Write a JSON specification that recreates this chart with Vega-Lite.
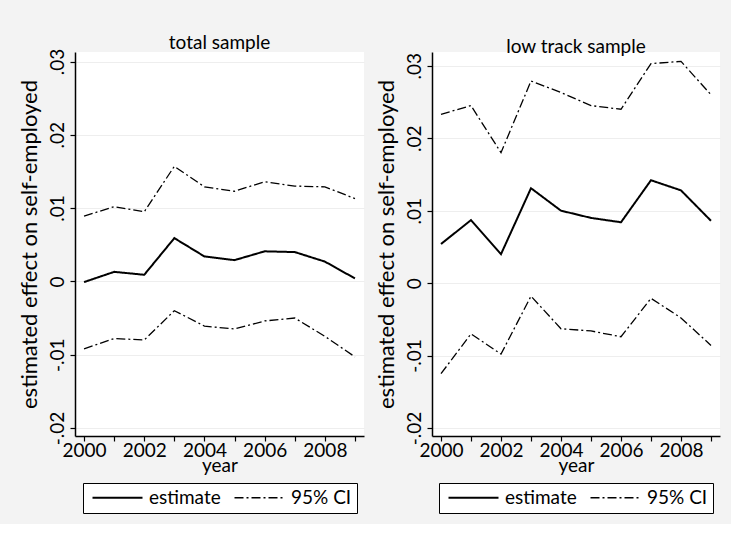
{
  "$schema": "https://vega.github.io/schema/vega-lite/v6.json",
  "background": "#f3f3f3",
  "padding": {"left": 18, "top": 34, "right": 13, "bottom": 10},
  "datasets": {
    "pts": [
      {"panel": "total", "year": 2000, "line": "estimate", "type": "estimate", "value": -0.0001},
      {"panel": "total", "year": 2001, "line": "estimate", "type": "estimate", "value": 0.0013},
      {"panel": "total", "year": 2002, "line": "estimate", "type": "estimate", "value": 0.0009},
      {"panel": "total", "year": 2003, "line": "estimate", "type": "estimate", "value": 0.0059},
      {"panel": "total", "year": 2004, "line": "estimate", "type": "estimate", "value": 0.0034},
      {"panel": "total", "year": 2005, "line": "estimate", "type": "estimate", "value": 0.0029},
      {"panel": "total", "year": 2006, "line": "estimate", "type": "estimate", "value": 0.0041},
      {"panel": "total", "year": 2007, "line": "estimate", "type": "estimate", "value": 0.0040},
      {"panel": "total", "year": 2008, "line": "estimate", "type": "estimate", "value": 0.0027},
      {"panel": "total", "year": 2009, "line": "estimate", "type": "estimate", "value": 0.0004},
      {"panel": "total", "year": 2000, "line": "upper", "type": "95% CI", "value": 0.0089},
      {"panel": "total", "year": 2001, "line": "upper", "type": "95% CI", "value": 0.0102},
      {"panel": "total", "year": 2002, "line": "upper", "type": "95% CI", "value": 0.0095},
      {"panel": "total", "year": 2003, "line": "upper", "type": "95% CI", "value": 0.0157},
      {"panel": "total", "year": 2004, "line": "upper", "type": "95% CI", "value": 0.0129},
      {"panel": "total", "year": 2005, "line": "upper", "type": "95% CI", "value": 0.0123},
      {"panel": "total", "year": 2006, "line": "upper", "type": "95% CI", "value": 0.0136},
      {"panel": "total", "year": 2007, "line": "upper", "type": "95% CI", "value": 0.0130},
      {"panel": "total", "year": 2008, "line": "upper", "type": "95% CI", "value": 0.0129},
      {"panel": "total", "year": 2009, "line": "upper", "type": "95% CI", "value": 0.0113},
      {"panel": "total", "year": 2000, "line": "lower", "type": "95% CI", "value": -0.0092},
      {"panel": "total", "year": 2001, "line": "lower", "type": "95% CI", "value": -0.0078},
      {"panel": "total", "year": 2002, "line": "lower", "type": "95% CI", "value": -0.0080},
      {"panel": "total", "year": 2003, "line": "lower", "type": "95% CI", "value": -0.0040},
      {"panel": "total", "year": 2004, "line": "lower", "type": "95% CI", "value": -0.0061},
      {"panel": "total", "year": 2005, "line": "lower", "type": "95% CI", "value": -0.0065},
      {"panel": "total", "year": 2006, "line": "lower", "type": "95% CI", "value": -0.0054},
      {"panel": "total", "year": 2007, "line": "lower", "type": "95% CI", "value": -0.0050},
      {"panel": "total", "year": 2008, "line": "lower", "type": "95% CI", "value": -0.0075},
      {"panel": "total", "year": 2009, "line": "lower", "type": "95% CI", "value": -0.0103},
      {"panel": "low", "year": 2000, "line": "estimate", "type": "estimate", "value": 0.0054},
      {"panel": "low", "year": 2001, "line": "estimate", "type": "estimate", "value": 0.0087},
      {"panel": "low", "year": 2002, "line": "estimate", "type": "estimate", "value": 0.0040},
      {"panel": "low", "year": 2003, "line": "estimate", "type": "estimate", "value": 0.0131},
      {"panel": "low", "year": 2004, "line": "estimate", "type": "estimate", "value": 0.0100},
      {"panel": "low", "year": 2005, "line": "estimate", "type": "estimate", "value": 0.0090},
      {"panel": "low", "year": 2006, "line": "estimate", "type": "estimate", "value": 0.0084},
      {"panel": "low", "year": 2007, "line": "estimate", "type": "estimate", "value": 0.0142},
      {"panel": "low", "year": 2008, "line": "estimate", "type": "estimate", "value": 0.0128},
      {"panel": "low", "year": 2009, "line": "estimate", "type": "estimate", "value": 0.0086},
      {"panel": "low", "year": 2000, "line": "upper", "type": "95% CI", "value": 0.0233},
      {"panel": "low", "year": 2001, "line": "upper", "type": "95% CI", "value": 0.0245},
      {"panel": "low", "year": 2002, "line": "upper", "type": "95% CI", "value": 0.0180},
      {"panel": "low", "year": 2003, "line": "upper", "type": "95% CI", "value": 0.0279},
      {"panel": "low", "year": 2004, "line": "upper", "type": "95% CI", "value": 0.0263},
      {"panel": "low", "year": 2005, "line": "upper", "type": "95% CI", "value": 0.0245},
      {"panel": "low", "year": 2006, "line": "upper", "type": "95% CI", "value": 0.0240},
      {"panel": "low", "year": 2007, "line": "upper", "type": "95% CI", "value": 0.0303},
      {"panel": "low", "year": 2008, "line": "upper", "type": "95% CI", "value": 0.0306},
      {"panel": "low", "year": 2009, "line": "upper", "type": "95% CI", "value": 0.0260},
      {"panel": "low", "year": 2000, "line": "lower", "type": "95% CI", "value": -0.0125},
      {"panel": "low", "year": 2001, "line": "lower", "type": "95% CI", "value": -0.0070},
      {"panel": "low", "year": 2002, "line": "lower", "type": "95% CI", "value": -0.0098},
      {"panel": "low", "year": 2003, "line": "lower", "type": "95% CI", "value": -0.0018},
      {"panel": "low", "year": 2004, "line": "lower", "type": "95% CI", "value": -0.0063},
      {"panel": "low", "year": 2005, "line": "lower", "type": "95% CI", "value": -0.0066},
      {"panel": "low", "year": 2006, "line": "lower", "type": "95% CI", "value": -0.0074},
      {"panel": "low", "year": 2007, "line": "lower", "type": "95% CI", "value": -0.0021},
      {"panel": "low", "year": 2008, "line": "lower", "type": "95% CI", "value": -0.0048},
      {"panel": "low", "year": 2009, "line": "lower", "type": "95% CI", "value": -0.0086}
    ]
  },
  "data": {"name": "pts"},
  "config": {
    "font": "Lato",
    "view": {"fill": "white", "stroke": null},
    "axis": {
      "domainColor": "black", "tickColor": "black", "labelColor": "black", "titleColor": "black",
      "labelFontSize": 19, "titleFontSize": 19, "titleFontWeight": "normal",
      "tickSize": 5, "domainWidth": 1.5, "tickWidth": 1.2, "labelFont": "Lato", "titleFont": "Lato"
    },
    "title": {"fontSize": 19, "fontWeight": "normal", "offset": -5, "color": "black", "font": "Lato"},
    "legend": {
      "layout": {"bottom": {"anchor": "middle"}}
    }
  },
  "spacing": 11,
  "resolve": {"scale": {"x": "independent", "y": "independent", "strokeDash": "independent", "strokeWidth": "independent"}, "legend": {"strokeDash": "independent"}},
  "hconcat": [
    {
      "title": "total sample",
      "width": 289,
      "height": 384,
      "transform": [{"filter": "datum.panel === 'total'"}],
      "mark": {"type": "line", "color": "black"},
      "encoding": {
        "x": {"field": "year", "type": "quantitative",
          "scale": {"domain": [1999.7, 2009.3], "nice": false, "zero": false},
          "axis": {"values": [2000, 2001, 2002, 2003, 2004, 2005, 2006, 2007, 2008, 2009], "format": "d",
            "labelExpr": "datum.value % 2 === 0 ? datum.label : ''", "grid": false, "title": "year", "titlePadding": -4, "labelPadding": 0, "labelFlush": false}},
        "y": {"field": "value", "type": "quantitative",
          "scale": {"domain": [-0.0211, 0.0313], "nice": false, "zero": false},
          "axis": {"values": [-0.02, -0.01, 0, 0.01, 0.02, 0.03],
            "labelExpr": "datum.value == 0 ? '0' : (datum.value < 0 ? '-' : '') + replace(format(abs(datum.value), '.2f'), '0.', '.')",
            "labelAngle": -90, "labelAlign": "center", "labelBaseline": "bottom", "labelPadding": 3,
            "gridColor": "#eeeeee", "gridWidth": 1.2, "title": "estimated effect on self-employed", "titleFontSize": 22, "titlePadding": 7}},
        "detail": {"field": "line"},
        "strokeDash": {"field": "type", "type": "nominal",
          "scale": {"domain": ["estimate", "95% CI"], "range": [[1, 0], [9, 3, 2, 3]]},
          "legend": {"orient": "bottom", "direction": "horizontal", "title": null, "strokeColor": "black", "fillColor": "white",
            "padding": 5, "symbolType": "M-1,0L9,0", "symbolSize": 100, "symbolStrokeWidth": 2, "symbolStrokeColor": "black",
            "labelOffset": 42, "labelFontSize": 19, "labelColor": "black", "labelFont": "Lato", "columnPadding": 9, "offset": 8}},
        "strokeWidth": {"field": "type", "type": "nominal", "scale": {"domain": ["estimate", "95% CI"], "range": [2, 1.3]}, "legend": null}
      }
    },
    {
      "title": "low track sample",
      "width": 288,
      "height": 384,
      "transform": [{"filter": "datum.panel === 'low'"}],
      "mark": {"type": "line", "color": "black"},
      "encoding": {
        "x": {"field": "year", "type": "quantitative",
          "scale": {"domain": [1999.7, 2009.3], "nice": false, "zero": false},
          "axis": {"values": [2000, 2001, 2002, 2003, 2004, 2005, 2006, 2007, 2008, 2009], "format": "d",
            "labelExpr": "datum.value % 2 === 0 ? datum.label : ''", "grid": false, "title": "year", "titlePadding": -4, "labelPadding": 0, "labelFlush": false}},
        "y": {"field": "value", "type": "quantitative",
          "scale": {"domain": [-0.0211, 0.0319], "nice": false, "zero": false},
          "axis": {"values": [-0.02, -0.01, 0, 0.01, 0.02, 0.03],
            "labelExpr": "datum.value == 0 ? '0' : (datum.value < 0 ? '-' : '') + replace(format(abs(datum.value), '.2f'), '0.', '.')",
            "labelAngle": -90, "labelAlign": "center", "labelBaseline": "bottom", "labelPadding": 3,
            "gridColor": "#eeeeee", "gridWidth": 1.2, "title": "estimated effect on self-employed", "titleFontSize": 22, "titlePadding": 7}},
        "detail": {"field": "line"},
        "strokeDash": {"field": "type", "type": "nominal",
          "scale": {"domain": ["estimate", "95% CI"], "range": [[1, 0], [9, 3, 2, 3]]},
          "legend": {"orient": "bottom", "direction": "horizontal", "title": null, "strokeColor": "black", "fillColor": "white",
            "padding": 5, "symbolType": "M-1,0L9,0", "symbolSize": 100, "symbolStrokeWidth": 2, "symbolStrokeColor": "black",
            "labelOffset": 42, "labelFontSize": 19, "labelColor": "black", "labelFont": "Lato", "columnPadding": 9, "offset": 8}},
        "strokeWidth": {"field": "type", "type": "nominal", "scale": {"domain": ["estimate", "95% CI"], "range": [2, 1.3]}, "legend": null}
      }
    }
  ]
}
